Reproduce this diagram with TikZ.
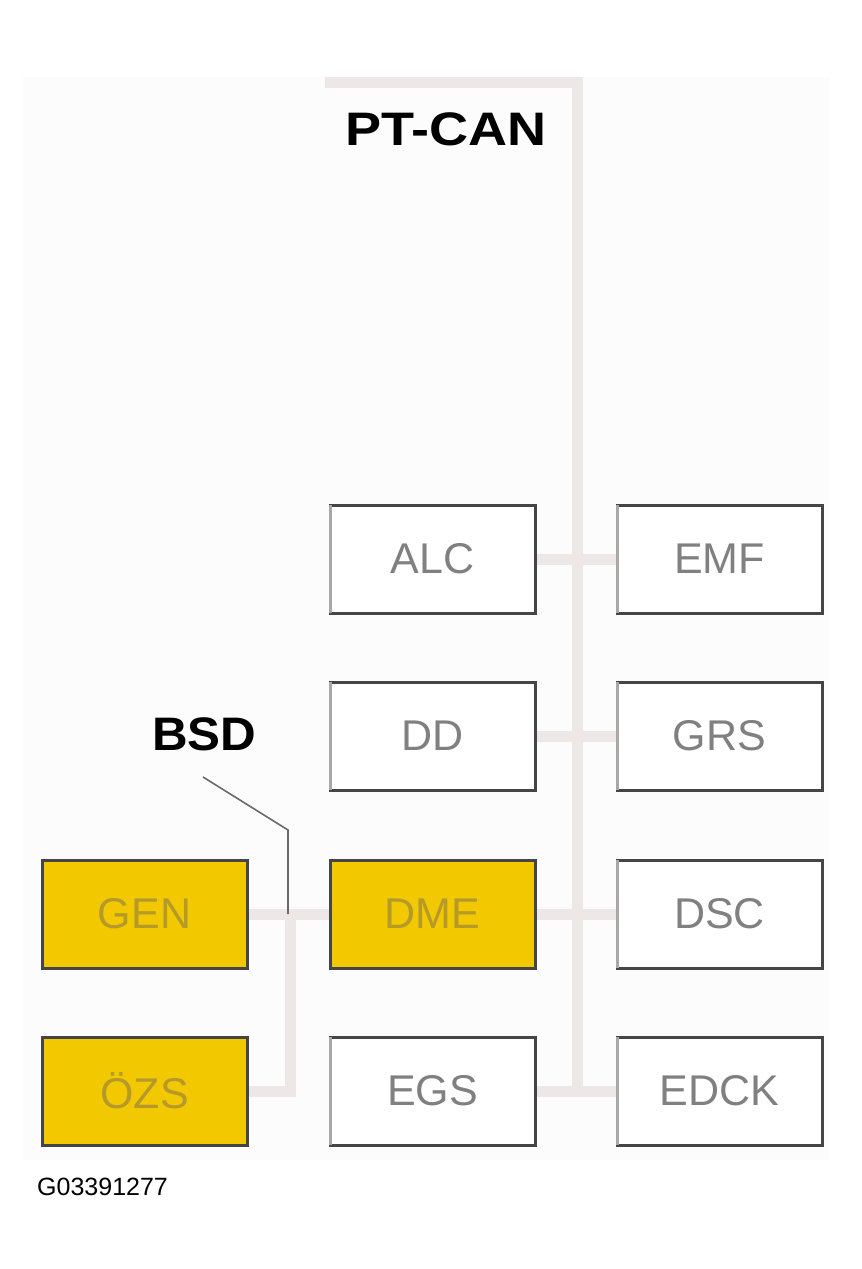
\documentclass[tikz,border=0pt]{standalone}
\usepackage{fontspec}
\setmainfont{Liberation Sans}
\usetikzlibrary{backgrounds}
\definecolor{busc}{HTML}{EDE8E5}
\definecolor{edgedark}{HTML}{454545}
\definecolor{edgelight}{HTML}{ABA7A5}
\definecolor{boxtxt}{HTML}{808080}
\definecolor{yel}{HTML}{F2C900}
\definecolor{yeltxt}{HTML}{B59A2A}
\definecolor{panel}{HTML}{FCFCFC}
\tikzset{
  ecu/.style={draw=edgedark, line width=3pt, minimum width=205pt, minimum height=108pt, inner sep=0pt, fill=white, text=boxtxt, font=\fontsize{43}{43}\selectfont},
  yecu/.style={ecu, fill=yel, text=yeltxt},
  bus/.style={draw=busc, line width=11pt},
  ledge/.style={draw=edgelight, line width=3pt},
  leader/.style={draw=edgedark!80, line width=1.6pt},
  heading/.style={font=\fontsize{47}{47}\selectfont\bfseries, text=black, inner sep=0pt}
}
\begin{document}
\begin{tikzpicture}[x=1pt,y=-1pt]
\useasboundingbox (0,0) rectangle (862,1269);
% ECUs
\node[ecu] (ALC) at (432.5,559) {ALC};
\node[ecu] (EMF) at (719.5,559) {EMF};
\node[ecu] (DD) at (432.5,736) {DD};
\node[ecu] (GRS) at (719.5,736) {GRS};
\node[yecu] (DME) at (432.5,914) {DME};
\node[ecu] (DSC) at (719.5,914) {DSC};
\node[ecu] (EGS) at (432.5,1091) {EGS};
\node[ecu] (EDCK) at (719.5,1091) {EDCK};
\node[yecu] (GEN) at (144.5,914) {GEN};
\node[yecu] (OZS) at (144.5,1091) {ÖZS};
\foreach \n in {ALC,EMF,DD,GRS,DSC,EGS,EDCK}
  \draw[ledge] ([xshift=1.5pt,yshift=-1.5pt]\n.north west) -- ([xshift=1.5pt,yshift=1.5pt]\n.south west);
% bus coordinates
\coordinate (ptstart) at (325,82);
\coordinate (ptcorner) at (577,82);
\coordinate (ptend) at (577,1091);
\coordinate (bsdtop) at (290,914);
\coordinate (bsdbot) at (290,1091);
\coordinate (lead1) at (203,777);
\coordinate (lead2) at (288,830);
\coordinate (lead3) at (288,914);
\begin{pgfonlayer}{background}
\fill[white] (0,0) rectangle (862,1269);
\fill[panel] (23,77) rectangle (830,1160);
\draw[bus] (ptstart) -- (ptcorner) -- (ptend);
\draw[bus] (ALC.east) -- (EMF.west);
\draw[bus] (DD.east) -- (GRS.west);
\draw[bus] (DME.east) -- (DSC.west);
\draw[bus] (EGS.east) -- (EDCK.west);
\draw[bus] (GEN.east) -- (DME.west);
\draw[bus] (OZS.east) -- (bsdbot) -- (bsdtop);
\end{pgfonlayer}
\draw[leader] (lead1) -- (lead2) -- (lead3);
% labels
\node[heading, anchor=base west] (ptcan) at (345,145) {\scalebox{1.15}[1]{PT-CAN}};
\node[heading, anchor=base west] (bsd) at (152,750) {\scalebox{1.05}[1]{BSD}};
\node[anchor=base west, inner sep=0pt, font=\fontsize{25}{25}\selectfont] (code) at (37,1195) {G03391277};
\end{tikzpicture}
\end{document}
